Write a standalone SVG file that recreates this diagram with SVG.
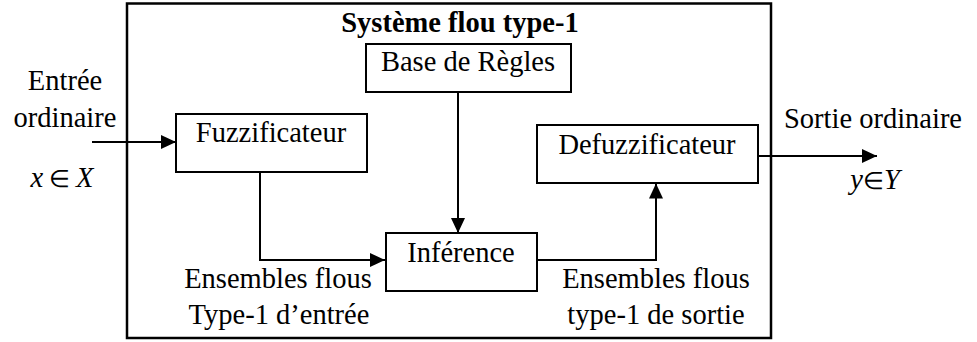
<svg xmlns="http://www.w3.org/2000/svg" width="977" height="342" viewBox="0 0 977 342">
  <style>
    text { font-family: "Liberation Serif", "Times New Roman", serif; font-size: 28.5px; fill: #000; }
    .title { font-weight: bold; }
    .math { font-style: italic; }
    .op { font-style: normal; font-size: 24px; }
    .box { fill: #fff; stroke: #000; stroke-width: 2; }
    .frame { fill: none; stroke: #000; stroke-width: 2.5; }
    .wire { fill: none; stroke: #000; stroke-width: 2; }
  </style>
  <defs>
    <marker id="arrow" markerUnits="userSpaceOnUse" markerWidth="16" markerHeight="15" refX="15" refY="7" orient="auto">
      <path d="M0,0 L15,7 L0,14 Z" fill="#000"/>
    </marker>
  </defs>

  <rect width="977" height="342" fill="#fff"/>

  <!-- system boundary -->
  <g id="systeme">
    <rect class="frame" x="127" y="3.5" width="644" height="334.5"/>
    <text class="title" x="460" y="32" text-anchor="middle">Système flou type-1</text>
  </g>

  <!-- connectors -->
  <g id="connectors">
    <line class="wire" x1="92" y1="142" x2="176" y2="142" marker-end="url(#arrow)"/>
    <polyline class="wire" points="260,172 260,260 385,260" marker-end="url(#arrow)"/>
    <line class="wire" x1="458" y1="92" x2="458" y2="233" marker-end="url(#arrow)"/>
    <polyline class="wire" points="538,260 656,260 656,183.5" marker-end="url(#arrow)"/>
    <line class="wire" x1="758" y1="156" x2="877" y2="156" marker-end="url(#arrow)"/>
  </g>

  <g id="fuzzificateur">
    <rect class="box" x="176" y="114" width="191" height="58"/>
    <text x="271" y="142" text-anchor="middle">Fuzzificateur</text>
  </g>

  <g id="base-regles">
    <rect class="box" x="366" y="44" width="205" height="48"/>
    <text x="468" y="71" text-anchor="middle">Base de Règles</text>
  </g>

  <g id="inference">
    <rect class="box" x="386" y="233" width="151" height="58"/>
    <text x="461" y="262" text-anchor="middle">Inférence</text>
  </g>

  <g id="defuzzificateur">
    <rect class="box" x="537" y="125" width="221" height="58"/>
    <text x="647" y="154" text-anchor="middle">Defuzzificateur</text>
  </g>

  <!-- labels -->
  <g id="labels">
    <text x="65" y="90" text-anchor="middle">Entrée</text>
    <text x="65" y="127" text-anchor="middle">ordinaire</text>
    <text class="math" x="62" y="187" text-anchor="middle">x<tspan class="op"> ∈ </tspan>X</text>
    <text x="873" y="128" text-anchor="middle">Sortie ordinaire</text>
    <text class="math" x="875" y="189" text-anchor="middle">y<tspan class="op">∈</tspan>Y</text>
    <text x="278" y="288" text-anchor="middle">Ensembles flous</text>
    <text x="279" y="324" text-anchor="middle">Type-1 d’entrée</text>
    <text x="656" y="288" text-anchor="middle">Ensembles flous</text>
    <text x="656" y="324" text-anchor="middle">type-1 de sortie</text>
  </g>
</svg>
